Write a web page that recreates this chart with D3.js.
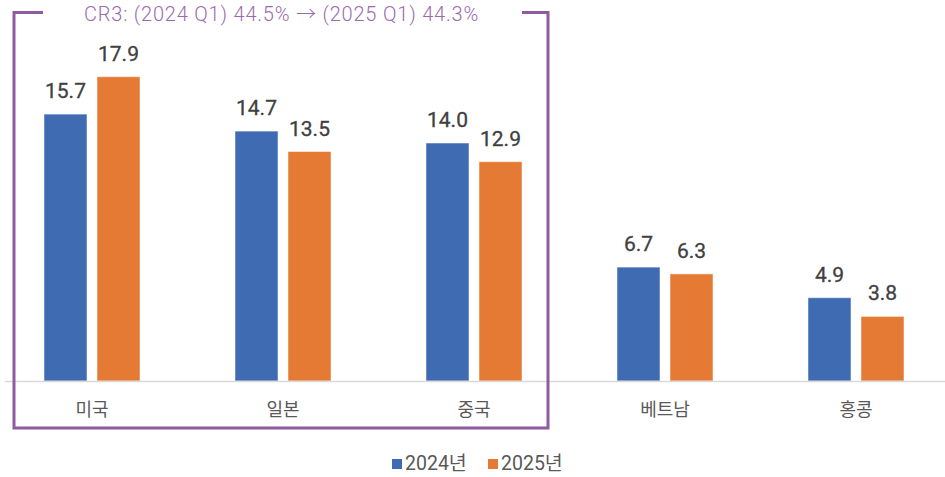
<!DOCTYPE html>
<html>
<head>
<meta charset="utf-8">
<script src="https://d3js.org/d3.v7.min.js"></script>
<style>
  body { margin: 0; background: #fff; }
  svg { display: block; font-family: Roboto, "Noto Sans CJK KR", sans-serif; }
</style>
</head>
<body>
<div id="chart"></div>
<script>
const countries = ["미국", "일본", "중국", "베트남", "홍콩"];
const series = ["2024년", "2025년"];
const values2024 = [15.7, 14.7, 14.0, 6.7, 4.9];
const values2025 = [17.9, 13.5, 12.9, 6.3, 3.8];
const colors = ["#3F6BB3", "#E47A33"];
const boxTitle = "CR3: (2024 Q1) 44.5% → (2025 Q1) 44.3%";

const width = 945, height = 477;
const baseY = 381;

const data = countries.map((c, i) => ({ country: c, vals: [values2024[i], values2025[i]] }));

const svg = d3.select("#chart").append("svg")
    .attr("width", width)
    .attr("height", height);

const x = d3.scaleBand()
    .domain(countries)
    .range([-3.5, 951.5]);

const xInner = d3.scaleBand()
    .domain(series)
    .range([0, x.bandwidth()])
    .paddingInner(0.1887)
    .paddingOuter(0.896);

const y = d3.scaleLinear()
    .domain([0, 20])
    .range([baseY, baseY - 340]);

// bars
const groups = svg.selectAll("g.grp")
    .data(data)
    .join("g")
    .attr("class", "grp")
    .attr("transform", d => `translate(${x(d.country)},0)`);

const pts = d => d.vals.map((v, j) => ({ v, s: series[j], j }));

groups.selectAll("rect")
    .data(pts)
    .join("rect")
    .attr("x", d => xInner(d.s))
    .attr("width", xInner.bandwidth())
    .attr("y", d => y(d.v))
    .attr("height", d => baseY - y(d.v))
    .attr("fill", d => colors[d.j])
    .attr("stroke", "#fff")
    .attr("stroke-opacity", 0.5)
    .attr("stroke-width", 1);

groups.selectAll("text.val")
    .data(pts)
    .join("text")
    .attr("class", "val")
    .attr("x", d => xInner(d.s) + xInner.bandwidth() / 2)
    .attr("y", d => y(d.v) - 16)
    .attr("text-anchor", "middle")
    .attr("font-size", 21)
    .attr("fill", "#404040")
    .attr("stroke", "#404040")
    .attr("stroke-width", 0.3)
    .text(d => d.v.toFixed(1));

// axis line
svg.append("line")
    .attr("x1", 5).attr("x2", 945)
    .attr("y1", baseY + 0.5).attr("y2", baseY + 0.5)
    .attr("stroke", "#D9D9D9")
    .attr("stroke-width", 1.5);

// category labels
svg.selectAll("text.cat")
    .data(countries)
    .join("text")
    .attr("class", "cat")
    .attr("x", d => x(d) + x.bandwidth() / 2)
    .attr("y", 416)
    .attr("text-anchor", "middle")
    .attr("font-size", 18)
    .attr("fill", "#595959")
    .text(d => d);

// CR3 box
const purple = "#8E5B9F";
const box = { x1: 14, x2: 548, y1: 12.5, y2: 428 };
svg.append("path")
    .attr("d", `M${box.x1 + 29},${box.y1} H${box.x1} V${box.y2} H${box.x2} V${box.y1} H${box.x2 - 26}`)
    .attr("fill", "none")
    .attr("stroke", purple)
    .attr("stroke-width", 3);

svg.append("text")
    .attr("x", 281.5)
    .attr("y", 20.7)
    .attr("text-anchor", "middle")
    .attr("font-size", 20)
    .attr("font-weight", 300)
    .attr("letter-spacing", 0.8)
    .attr("fill", "#9B6BAE")
    .text(boxTitle);

// legend
const legX = [392, 488];
series.forEach((s, i) => {
  svg.append("rect")
    .attr("x", legX[i]).attr("y", 459)
    .attr("width", 10).attr("height", 10)
    .attr("fill", colors[i]);
  svg.append("text")
    .attr("x", legX[i] + 13)
    .attr("y", 469.5)
    .attr("font-size", 19.5)
    .attr("fill", "#595959")
    .text(s);
});
</script>
</body>
</html>
